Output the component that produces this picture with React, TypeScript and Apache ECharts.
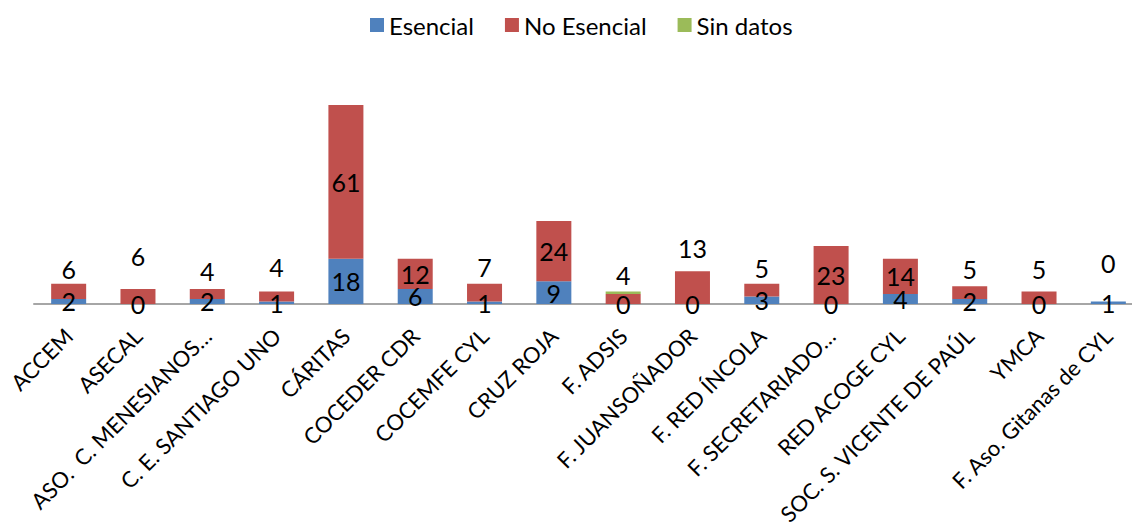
import React, { useEffect, useRef } from "react";
import * as echarts from "echarts";

const categories = [
  "ACCEM",
  "ASECAL",
  "ASO.  C. MENESIANOS…",
  "C. E. SANTIAGO UNO",
  "CÁRITAS",
  "COCEDER CDR",
  "COCEMFE CYL",
  "CRUZ ROJA",
  "F. ADSIS",
  "F. JUANSOÑADOR",
  "F. RED ÍNCOLA",
  "F. SECRETARIADO…",
  "RED ACOGE CYL",
  "SOC. S. VICENTE DE PAÚL",
  "YMCA",
  "F. Aso. Gitanas de CYL",
];
const esencial = [2, 0, 2, 1, 18, 6, 1, 9, 0, 0, 3, 0, 4, 2, 0, 1];
const noEsencial = [6, 6, 4, 4, 61, 12, 7, 24, 4, 13, 5, 23, 14, 5, 5, 0];
const sinDatos = [0, 0, 0, 0, 0, 0, 0, 0, 1, 0, 0, 0, 0, 0, 0, 0];

// label placement (style) for the "No Esencial" labels: inside, or above the bar by a gap
const redLabelGap: Record<string, number> = {
  "ACCEM": 2,
  "ASECAL": 20,
  "ASO.  C. MENESIANOS…": 5,
  "C. E. SANTIAGO UNO": 12,
  "COCEMFE CYL": 4,
  "F. ADSIS": 6,
  "F. JUANSOÑADOR": 11,
  "F. RED ÍNCOLA": 3,
  "SOC. S. VICENTE DE PAÚL": 5,
  "YMCA": 10,
  "F. Aso. Gitanas de CYL": 26,
};

const FONT = "Lato, 'Liberation Sans', sans-serif";

export default function App() {
  const ref = useRef<HTMLDivElement>(null);
  useEffect(() => {
    document.body.style.margin = "0";
    const chart = echarts.init(ref.current!, null, { renderer: "svg" });
    const labelBase = { show: true, color: "#000", fontSize: 25, fontFamily: FONT };
    chart.setOption({
      animation: false,
      textStyle: { fontFamily: FONT },
      legend: {
        top: 8,
        left: 365,
        itemWidth: 14,
        itemHeight: 14,
        itemGap: 31,
        icon: "rect",
        textStyle: { fontSize: 24, color: "#000", fontFamily: FONT },
        data: ["Esencial", "No Esencial", "Sin datos"],
      },
      grid: {
        left: 34,
        top: 102.5,
        width: 1109,
        height: 201.5,
        containLabel: false,
        outerBoundsMode: "none",
      },
      xAxis: {
        type: "category",
        data: categories,
        axisLine: { lineStyle: { color: "#a6a6a6", width: 2 } },
        axisTick: { show: false },
        axisLabel: {
          rotate: 45,
          interval: 0,
          margin: 28,
          fontSize: 22,
          color: "#000",
          fontFamily: FONT,
        },
      },
      yAxis: {
        type: "value",
        min: 0,
        max: 80,
        show: false,
        splitLine: { show: false },
      },
      series: [
        {
          name: "Esencial",
          type: "bar",
          stack: "a",
          barWidth: 35,
          itemStyle: { color: "#4f81bd" },
          label: { ...labelBase, position: "inside" },
          data: esencial,
        },
        {
          name: "No Esencial",
          type: "bar",
          stack: "a",
          itemStyle: { color: "#c0504d" },
          data: noEsencial.map((v, i) => {
            const gap = redLabelGap[categories[i]];
            return {
              value: v,
              label:
                gap === undefined
                  ? { ...labelBase, position: "inside" }
                  : { ...labelBase, position: "top", distance: gap },
            };
          }),
        },
        {
          name: "Sin datos",
          type: "bar",
          stack: "a",
          itemStyle: { color: "#9bbb59" },
          label: { show: false },
          data: sinDatos,
        },
      ],
    });
    return () => chart.dispose();
  }, []);
  return <div ref={ref} style={{ width: 1132, height: 527 }} />;
}
